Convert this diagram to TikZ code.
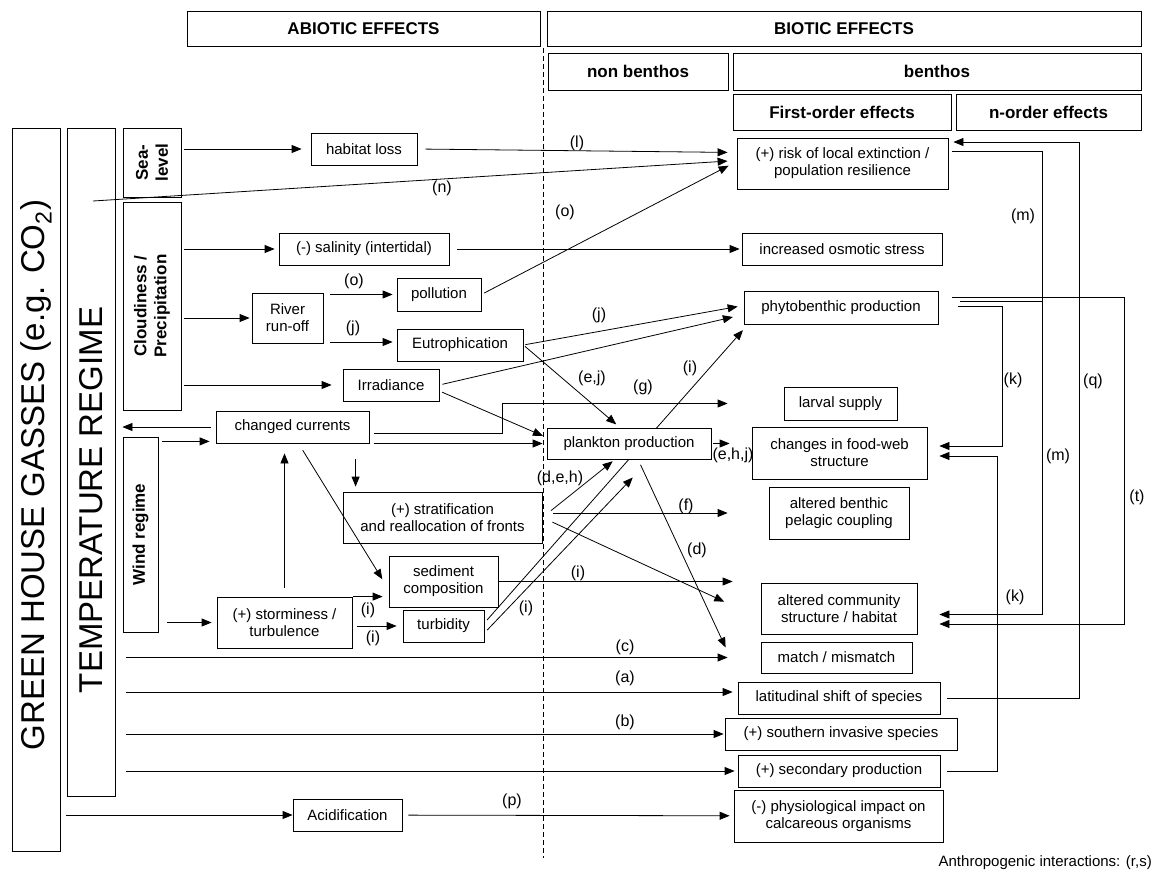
\documentclass[tikz,border=0pt]{standalone}
\usepackage{fontspec}
\setmainfont{Liberation Sans}
\usetikzlibrary{arrows.meta,calc}

\begin{document}
\begin{tikzpicture}[x=1pt,y=-1pt,
  fx/.style={draw, line width=0.8pt, inner sep=1pt, align=center, font=\fontsize{15}{17}\selectfont},
  hd/.style={draw, line width=0.8pt, inner sep=0pt, font=\bfseries\fontsize{17}{20}\selectfont},
  side/.style={draw, line width=0.8pt, inner sep=0pt, rotate=90, align=center, font=\bfseries\fontsize{17}{20}\selectfont},
  tag/.style={inner sep=0pt, font=\fontsize{16}{18}\selectfont},
  arr/.style={line width=0.8pt, -{Triangle[length=10pt,width=8pt]}},
  ln/.style={line width=0.8pt}]
\useasboundingbox (0,0) rectangle (1153,874);

% headers
\node[hd, minimum width=353pt, minimum height=35pt] (abiotic) at (363.5,28.5) {ABIOTIC EFFECTS};
\node[hd, minimum width=594pt, minimum height=35pt] (biotic) at (844,28.5) {BIOTIC EFFECTS};
\node[hd, minimum width=180pt, minimum height=37pt] (nonben) at (638,71.5) {non benthos};
\node[hd, minimum width=408pt, minimum height=37pt] (benthos) at (937,71.5) {benthos};
\node[hd, minimum width=218pt, minimum height=36pt] (first) at (842,112) {First-order effects};
\node[hd, minimum width=185pt, minimum height=36pt] (norder) at (1048.5,112) {n-order effects};
\draw[dashed, dash pattern=on 5pt off 3pt, line width=0.7pt] (543,48) -- (543,858);

% drivers
\node[draw, line width=0.8pt, minimum width=48pt, minimum height=723pt] (ghg) at (36,489.5) {};
\node[rotate=90, inner sep=0pt, font=\fontsize{33}{36}\selectfont] (ghgtext) at (36,475) {GREEN HOUSE GASSES (e.g. CO\textsubscript{2})};
\node[draw, line width=0.8pt, minimum width=48pt, minimum height=668pt] (temp) at (91,462) {};
\node[rotate=90, inner sep=0pt, font=\fontsize{33}{36}\selectfont] (temptext) at (91,500) {TEMPERATURE REGIME};
\node[side, minimum width=69pt, minimum height=58pt] (sea) at (152,162.5) {Sea-\\level};
\node[side, minimum width=208pt, minimum height=58pt] (cloud) at (152,306) {Cloudiness /\\Precipitation};
\node[side, minimum width=195pt, minimum height=35pt] (wind) at (140.5,534.5) {Wind regime};

% abiotic effects
\node[fx, minimum width=106pt, minimum height=32pt] (habitat) at (364,149) {habitat loss};
\node[fx, minimum width=170pt, minimum height=32pt] (salinity) at (364,249) {(-) salinity (intertidal)};
\node[fx, minimum width=71pt, minimum height=50pt] (river) at (287.5,318) {River\\run-off};
\node[fx, minimum width=84pt, minimum height=33pt] (pollution) at (439,294.5) {pollution};
\node[fx, minimum width=126pt, minimum height=32pt] (eutro) at (460,345) {Eutrophication};
\node[fx, minimum width=96pt, minimum height=32pt] (irradiance) at (391,385) {Irradiance};
\node[fx, minimum width=153pt, minimum height=32pt] (currents) at (292.5,427) {changed currents};
\node[fx, minimum width=199pt, minimum height=51pt] (strat) at (442.5,517.5) {(+) stratification\\and reallocation of fronts};
\node[fx, minimum width=109pt, minimum height=51pt] (sediment) at (443.5,581.5) {sediment\\composition};
\node[fx, minimum width=135pt, minimum height=51pt] (storm) at (284.5,622.5) {(+) storminess /\\turbulence};
\node[fx, minimum width=81pt, minimum height=32pt] (turbidity) at (443.5,626) {turbidity};
\node[fx, minimum width=109pt, minimum height=32pt] (acid) at (347.5,815) {Acidification};

% biotic effects
\node[fx, minimum width=211pt, minimum height=51pt] (risk) at (842.5,163.5) {(+) risk of local extinction /\\population resilience};
\node[fx, minimum width=200pt, minimum height=32pt] (osmotic) at (842,249) {increased osmotic stress};
\node[fx, minimum width=194pt, minimum height=33pt] (phyto) at (841,307.5) {phytobenthic production};
\node[fx, minimum width=113pt, minimum height=33pt] (larval) at (840.5,403.5) {larval supply};
\node[fx, minimum width=175pt, minimum height=52pt] (foodweb) at (839.5,453) {changes in food-web\\structure};
\node[fx, minimum width=140pt, minimum height=52pt] (pelagic) at (839,513) {altered benthic\\pelagic coupling};
\node[fx, minimum width=156pt, minimum height=51pt] (community) at (839,608.5) {altered community\\structure / habitat};
\node[fx, minimum width=151pt, minimum height=31pt] (match) at (836.5,657.5) {match / mismatch};
\node[fx, minimum width=202pt, minimum height=32pt] (latitudinal) at (839,698) {latitudinal shift of species};
\node[fx, minimum width=232pt, minimum height=32pt] (southern) at (841,734) {(+) southern invasive species};
\node[fx, minimum width=202pt, minimum height=32pt] (secondary) at (839,771) {(+) secondary production};
\node[fx, minimum width=209pt, minimum height=52pt] (physio) at (838.5,816) {(-) physiological impact on\\calcareous organisms};

% turbidity line runs behind plankton box
\draw[arr, shorten <=4pt, shorten >=1pt] ($(turbidity.east)+(0,-3)$) -- ($(phyto.south west)+(0,5)$);
\node[fx, fill=white, minimum width=164pt, minimum height=31pt] (plankton) at (629,443.5) {plankton production};

% sea level and precipitation
\coordinate (nstart) at (93,201);
\draw[arr, shorten <=3pt, shorten >=9pt] (sea.south |- habitat) -- (habitat.west);
\draw[arr, shorten <=8pt, shorten >=9pt] (habitat.east) -- ($(risk.west)+(0,-11)$);
\draw[arr, shorten >=9pt] (nstart) -- ($(risk.west)+(0,-3)$);
\draw[arr, shorten <=3pt, shorten >=4pt] (cloud.south |- salinity) -- (salinity.west);
\draw[arr, shorten <=8pt, shorten >=2pt] (salinity) -- (osmotic);
\draw[arr, shorten <=3pt, shorten >=2pt] (cloud.south |- river) -- (river.west);
\draw[arr, shorten <=7pt, shorten >=4pt] (river.east |- pollution) -- (pollution.west);
\draw[arr, shorten <=7pt, shorten >=4pt] ($(river.east |- eutro.west)+(0,-3)$) -- ($(eutro.west)+(0,-3)$);
\draw[arr, shorten <=3pt, shorten >=9pt] (pollution.east) -- ($(risk.west)+(0,-2)$);
\draw[arr, shorten <=3pt, shorten >=11pt] (cloud.south |- irradiance) -- (irradiance.west);
\draw[arr, shorten <=2pt, shorten >=6pt] (eutro.east) -- ($(phyto.west)+(0,-2)$);
\draw[arr, shorten <=3pt, shorten >=11pt] (irradiance.east) -- ($(phyto.west)+(0,7)$);
\draw[arr, shorten <=2pt, shorten >=5pt] (eutro.east) -- ($(plankton.north)+(-9,0)$);
\draw[arr, shorten <=3pt, shorten >=4pt] ($(irradiance.east)+(0,6)$) -- ($(plankton.west)+(0,-6)$);

% wind and currents
\draw[arr, shorten <=5pt, shorten >=7pt] (currents.west) -- (currents.west -| temp.east);
\draw[arr, shorten <=4pt, shorten >=6pt] ($(wind.south |- currents.south west)+(0,-2)$) -- ($(currents.south west)+(0,-2)$);
\draw[arr, shorten <=9pt, shorten >=5pt] (wind.south |- storm) -- (storm.west);
\draw[arr, shorten <=9pt, shorten >=10pt] (storm.north) -- (storm.north |- currents.south);
\draw[arr, shorten <=16pt, shorten >=5pt] ($(strat.north west |- currents.south)+(13,0)$) -- ($(strat.north west)+(13,0)$);
\draw[arr, shorten <=8pt, shorten >=12pt] ($(currents.south)+(6,0)$) -- ($(sediment.west)+(0,8)$);
\draw[arr, shorten <=1pt, shorten >=6pt] (storm.north east) -- (storm.north east -| sediment.west);
\draw[arr, shorten <=5pt, shorten >=6pt] (storm.east |- turbidity) -- (turbidity.west);
\draw[arr, shorten <=4pt, shorten >=25pt] ($(turbidity.east)+(0,7)$) -- ($(plankton.south)+(21,0)$);
\draw[arr, shorten <=5pt, shorten >=56pt] ($(currents.east)+(0,6)$) -- ++(133,0) |- (larval.west);
\draw[arr, shorten <=5pt, shorten >=4pt] (currents.east |- plankton.west) -- (plankton.west);

% stratification, sediment, plankton
\draw[arr, shorten <=11pt, shorten >=3pt] (strat.east) -- ($(plankton.south)+(-14,0)$);
\draw[arr, shorten <=11pt, shorten >=41pt] (strat.east |- pelagic) -- (pelagic.west);
\draw[arr, shorten <=11pt, shorten >=40pt] (strat.east) -- ($(community.west)+(0,10)$);
\draw[arr, shorten <=1pt, shorten >=28pt] (sediment.east) -- (sediment.east -| community.west);
\draw[arr, shorten <=6pt] ($(plankton.south)+(9,0)$) -- ($(match.west)+(-35,-10)$);
\draw[arr, shorten <=2pt, shorten >=22pt] (plankton.east) -- (plankton.east -| foodweb.west);

% n-order effects
\draw[arr, shorten <=7pt, shorten >=5pt] (latitudinal.east) -- ++(139,0) |- ($(risk.east)+(0,-21.5)$);
\draw[arr, shorten <=4pt, shorten >=22pt] ($(risk.east)+(0,-12)$) -- ++(94,0) |- ($(community.east)+(0,6)$);
\draw[ln, shorten <=22pt] ($(phyto.east)+(0,-6)$) -- ++(104,0);
\draw[arr, shorten <=20pt, shorten >=12pt] ($(phyto.east)+(0,-1)$) -- ++(64,0) |- ($(foodweb.east)+(0,-7)$);
\draw[arr, shorten <=14pt, shorten >=22pt] ($(phyto.east)+(0,-10)$) -- ++(186,0) |- ($(community.east)+(0,15.5)$);
\draw[arr, shorten <=7pt, shorten >=12pt] (secondary.east) -- ++(57,0) |- ($(foodweb.east)+(0,3)$);

% temperature and CO2
\draw[arr, shorten <=11pt, shorten >=33pt] (temp.east |- match.west) -- (match.west);
\draw[arr, shorten <=11pt, shorten >=5pt] ($(temp.east |- latitudinal.west)+(0,-6)$) -- ($(latitudinal.west)+(0,-6)$);
\draw[arr, shorten <=11pt, shorten >=1pt] (temp.east |- southern.west) -- (southern.west);
\draw[arr, shorten <=11pt, shorten >=3pt] (temp.east |- secondary.west) -- (secondary.west);
\draw[arr, shorten <=6pt] (ghg.east |- acid.west) -- (acid.west);
\draw[arr, shorten <=6pt, shorten >=4pt] (acid) -- (physio);

% labels
\node[tag] (tl) at (577,143) {(l)};
\node[tag] (tn) at (442,188) {(n)};
\node[tag] (to1) at (354,281) {(o)};
\node[tag] (tj1) at (353,328) {(j)};
\node[tag] (to2) at (565,212) {(o)};
\node[tag] (tj2) at (599,315) {(j)};
\node[tag] (tej) at (592,378) {(e,j)};
\node[tag] (tg) at (643,387) {(g)};
\node[tag] (ti1) at (690,368) {(i)};
\node[tag] (tehj) at (733,455) {(e,h,j)};
\node[tag] (tdeh) at (560,478) {(d,e,h)};
\node[tag] (tf) at (686,506) {(f)};
\node[tag] (td) at (697,550) {(d)};
\node[tag] (ti2) at (578,573) {(i)};
\node[tag] (ti3) at (368,610) {(i)};
\node[tag] (ti4) at (373,638) {(i)};
\node[tag] (ti5) at (526,608) {(i)};
\node[tag] (tc) at (625,647) {(c)};
\node[tag] (ta) at (625,678) {(a)};
\node[tag] (tb) at (625,722) {(b)};
\node[tag] (tp) at (512,801) {(p)};
\node[tag] (tm1) at (1023,216) {(m)};
\node[tag] (tm2) at (1058,456) {(m)};
\node[tag] (tk1) at (1013,380) {(k)};
\node[tag] (tq) at (1093,381) {(q)};
\node[tag] (tt) at (1137,497) {(t)};
\node[tag] (tk2) at (1015,597) {(k)};
\node[anchor=east, inner sep=0pt, font=\fontsize{15}{17}\selectfont] (anthro) at (1152,863) {Anthropogenic interactions: (r,s)};
\end{tikzpicture}
\end{document}
